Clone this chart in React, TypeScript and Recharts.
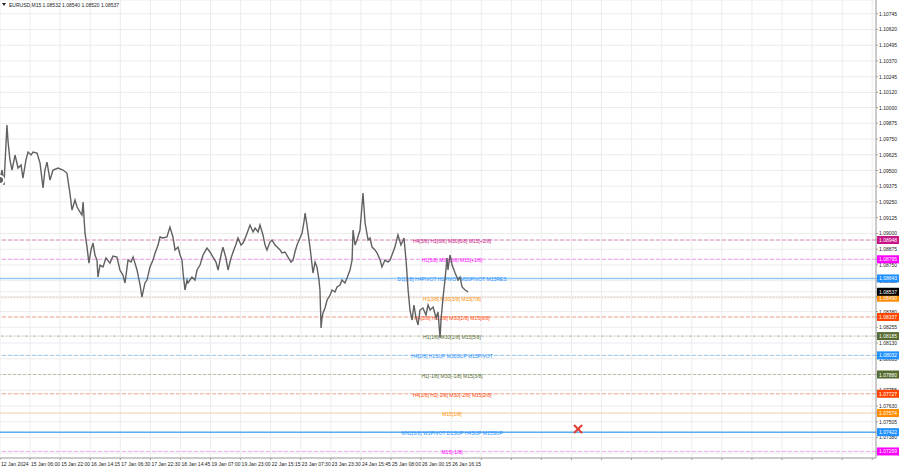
import React from 'react';
import {
  ComposedChart,
  Line,
  XAxis,
  YAxis,
  CartesianGrid,
  ReferenceLine,
  Scatter
} from 'recharts';

// hours since the first bar
const hours = [
  0, 1.1, 2.1, 3.7, 4.3, 5.3, 6.4, 8.0, 9.6, 11.2, 12.2, 13.8, 14.9, 16.5, 17.6, 19.7, 21.3, 22.9, 23.9, 25.0,
  26.6, 28.2, 30.9, 33.5, 35.6, 37.2, 38.3, 39.9, 41.0, 42.6, 43.6, 44.2, 45.2, 46.3, 47.3, 48.4, 49.5, 50.5, 51.6, 52.1,
  53.2, 54.8, 56.4, 58.5, 60.1, 62.2, 63.8, 65.4, 66.5, 68.1, 69.7, 70.8, 72.9, 74.5, 75.5, 77.1, 78.2, 79.8, 81.4, 82.5,
  84.1, 85.1, 86.7, 88.8, 90.4, 92.0, 93.1, 94.7, 95.8, 96.8, 97.4, 98.4, 99.5, 100.0, 102.1, 103.7, 104.8, 106.4, 108.0, 110.1,
  111.7, 113.3, 114.9, 116.0, 117.6, 118.6, 120.2, 121.3, 122.9, 124.0, 125.6, 126.6, 128.2, 129.3, 130.9, 133.0, 134.6, 135.7, 137.3, 138.3,
  139.9, 141.0, 142.0, 143.6, 144.7, 146.3, 147.4, 149.0, 150.0, 151.6, 153.2, 154.8, 155.9, 156.9, 158.0, 159.6, 160.7, 161.7, 162.3, 163.3,
  164.9, 166.5, 167.6, 168.6, 169.7, 170.2, 170.8, 171.3, 171.8, 172.9, 174.0, 175.6, 176.6, 178.2, 179.3, 180.9, 181.9, 183.5, 184.6, 186.2,
  187.3, 187.8, 188.9, 189.9, 191.5, 192.6, 193.1, 194.2, 195.8, 196.8, 197.9, 199.5, 200.6, 202.2, 203.2, 204.8, 206.4, 207.5, 209.1, 210.1,
  211.7, 213.3, 214.9, 216.0, 217.1, 218.1, 219.2, 220.2, 221.3, 222.4, 223.4, 225.0, 226.6, 227.7, 228.8, 230.4, 232.0, 233.0, 234.1, 234.6,
  235.7, 236.7, 237.8, 238.3, 239.4, 240.5, 242.1, 243.7, 244.7, 245.8, 247.4, 249.0
];

const prices = [
  1.09424, 1.09504, 1.09385, 1.09861, 1.09726, 1.09583, 1.09504, 1.09623, 1.09520, 1.09544, 1.09440, 1.09583, 1.09647, 1.09623, 1.09647, 1.09639, 1.09559, 1.09361, 1.09504, 1.09567,
  1.09424, 1.09504, 1.09520, 1.09504, 1.09480, 1.09321, 1.09186, 1.09266, 1.09210, 1.09170, 1.09147, 1.09250, 1.09004, 1.08892, 1.08765, 1.08869, 1.08924, 1.08829, 1.08789, 1.08654,
  1.08749, 1.08734, 1.08805, 1.08765, 1.08821, 1.08813, 1.08710, 1.08670, 1.08607, 1.08789, 1.08773, 1.08813, 1.08710, 1.08591, 1.08495, 1.08607, 1.08630, 1.08734, 1.08789, 1.08845,
  1.08908, 1.08972, 1.08964, 1.08972, 1.09051, 1.08972, 1.08869, 1.08892, 1.08829, 1.08789, 1.08686, 1.08551, 1.08630, 1.08607, 1.08654, 1.08630, 1.08710, 1.08749, 1.08829, 1.08884,
  1.08853, 1.08813, 1.08773, 1.08710, 1.08829, 1.08892, 1.08805, 1.08710, 1.08805, 1.08853, 1.08916, 1.08964, 1.08908, 1.08924, 1.08980, 1.09067, 1.09012, 1.09043, 1.09012, 1.09067,
  1.08988, 1.08908, 1.08869, 1.08932, 1.08948, 1.08908, 1.08892, 1.08869, 1.08845, 1.08853, 1.08813, 1.08773, 1.08789, 1.08853, 1.08908, 1.08964, 1.09004, 1.09091, 1.09162, 1.09067,
  1.08892, 1.08686, 1.08773, 1.08734, 1.08630, 1.08551, 1.08249, 1.08329, 1.08368, 1.08408, 1.08472, 1.08511, 1.08551, 1.08535, 1.08575, 1.08591, 1.08630, 1.08607, 1.08646, 1.08710,
  1.08789, 1.09027, 1.08908, 1.08948, 1.09027, 1.09226, 1.09321, 1.09083, 1.08948, 1.08964, 1.08892, 1.08869, 1.08845, 1.08789, 1.08734, 1.08789, 1.08773, 1.08789, 1.08853, 1.08892,
  1.08988, 1.08908, 1.08964, 1.08789, 1.08551, 1.08392, 1.08313, 1.08432, 1.08329, 1.08273, 1.08392, 1.08408, 1.08353, 1.08432, 1.08392, 1.08416, 1.08329, 1.08376, 1.08170, 1.08313,
  1.08495, 1.08630, 1.08805, 1.08710, 1.08829, 1.08749, 1.08686, 1.08630, 1.08654, 1.08575, 1.08551, 1.08537
];

const timeTicks = [
  0, 16, 32, 48, 64, 80, 96, 112, 128, 144, 160, 176, 192, 208, 224, 240,
  256, 272, 288, 304, 320, 336, 352, 368, 384, 400, 416, 432, 448, 464
];
const timeLabels = [
  '12 Jan 2024', '15 Jan 06:00', '15 Jan 22:00', '16 Jan 14:15', '17 Jan 06:30', '17 Jan 22:30',
  '18 Jan 14:45', '19 Jan 07:00', '19 Jan 23:00', '22 Jan 15:15', '23 Jan 07:30', '23 Jan 23:30',
  '24 Jan 15:45', '25 Jan 08:00', '26 Jan 00:15', '26 Jan 16:15'
];

const priceTicks = [
  1.10745, 1.10620, 1.10495, 1.10370, 1.10245, 1.10120, 1.10000, 1.09875, 1.09750, 1.09625,
  1.09500, 1.09375, 1.09250, 1.09125, 1.09000, 1.08875, 1.08750, 1.08625, 1.08500, 1.08380,
  1.08255, 1.08130, 1.08005, 1.07880, 1.07755, 1.07630, 1.07505, 1.07380, 1.07255
];

const levelPrices = [
  1.08948, 1.08795, 1.08643, 1.08490, 1.08337, 1.08185,
  1.08032, 1.07880, 1.07727, 1.07574, 1.07422, 1.07269
];
const levelNames = [
  'H4[5/8] H1[6/8] M30[6/8] M15[+2/8]',
  'H1[5/8] M30[5/8] M15[+1/8]',
  'D1[1/8] H4PIVOT H1PIVOT M30PIVOT M15RES',
  'H1[3/8] M30[3/8] M15[7/8]',
  'H4[3/8] H1[2/8] M30[2/8] M15[6/8]',
  'H1[1/8] M30[1/8] M15[5/8]',
  'H4[2/8] H1SUP M30SUP M15PIVOT',
  'H1[-1/8] M30[-1/8] M15[3/8]',
  'H4[1/8] H1[-2/8] M30[-2/8] M15[2/8]',
  'M15[1/8]',
  'MN1[6/8] W1PIVOT D1SUP H4SUP M15SUP',
  'M15[-1/8]'
];
const levelColors = [
  '#c71585', '#ff00ff', '#1e90ff', '#ff8c00', '#ff4500', '#556b2f',
  '#1e90ff', '#556b2f', '#ff4500', '#ff8c00', '#1e90ff', '#ff00ff'
];
const levelLineColors = [
  '#e28cc4', '#f59cf5', '#93c8f7', '#f8c890', '#f8a890', '#b4bc9c',
  '#9ccaf6', '#b8bea8', '#f8ac98', '#fbd6ad', '#5aacf7', '#f5a8f5'
];
const levelDashes = [
  '4 2', '4 2', undefined, '1 2', '4 2', '3 2 1 2',
  '4 2', '3 2', '4 2', undefined, undefined, '4 2'
];
const levelWidths = [1, 1, 1.5, 1, 1, 1, 1, 1, 1, 1, 1.5, 1];

const lastPrice = 1.08537;
const crossHours = [307.5];
const crossPrices = [1.07447];

// price tags on the right scale: levels plus the last price (drawn after the labels, so on top)
const tagPrices = [...levelPrices, lastPrice];
const tagColors = [...levelColors, '#000000'];
const scaleTicks = [...priceTicks, ...tagPrices];

const FONT = '"Liberation Sans", Arial, sans-serif';
const DOMAIN: [number, number] = [1.07217, 1.10854];

const series = hours.map((h, i) => ({ h, p: prices[i] }));
const crossData = crossHours.map((h, i) => ({ h, p: crossPrices[i] }));

function TimeTick(props: any) {
  const { x, y, index } = props;
  if (index >= timeLabels.length) return null;
  return (
    <text x={x + 1} y={y + 4} fontSize={5} fontFamily={FONT} fill="#222" textAnchor="start">
      {timeLabels[index]}
    </text>
  );
}

function PriceTick(props: any) {
  const { x, y, payload, index } = props;
  const label = Number(payload.value).toFixed(5);
  if (index >= priceTicks.length) {
    const color = tagColors[index - priceTicks.length] ?? '#000';
    return (
      <g>
        <rect x={x - 2} y={y - 4} width={22} height={8} fill={color} />
        <text x={x} y={y + 2} fontSize={5} fontFamily={FONT} fill="#fff" textAnchor="start">
          {label}
        </text>
      </g>
    );
  }
  return (
    <text x={x} y={y + 2} fontSize={5} fontFamily={FONT} fill="#222" textAnchor="start">
      {label}
    </text>
  );
}

function LevelName(props: any) {
  const { viewBox, name, color } = props;
  if (!viewBox) return null;
  const { x, y, width } = viewBox;
  return (
    <text x={x + width * 0.516} y={y + 3} fontSize={5} fontFamily={FONT} fill={color} textAnchor="middle">
      {name}
    </text>
  );
}

function Cross(props: any) {
  const { cx, cy } = props;
  return (
    <g stroke="#e0403a" strokeWidth={2} strokeLinecap="round">
      <line x1={cx - 3.5} y1={cy - 3.5} x2={cx + 3.5} y2={cy + 3.5} />
      <line x1={cx - 3.5} y1={cy + 3.5} x2={cx + 3.5} y2={cy - 3.5} />
    </g>
  );
}

export default function App() {
  return (
    <div style={{ position: 'relative', width: 900, height: 468, background: '#fff' }}>
      <style>{`body{margin:0;background:#fff}`}</style>
      <ComposedChart
        width={900}
        height={468}
        data={series}
        margin={{ top: 0, right: 0, left: 0, bottom: 0 }}
      >
        <CartesianGrid stroke="#ececec" />
        <XAxis
          dataKey="h"
          type="number"
          domain={[0, 466]}
          ticks={timeTicks}
          interval={0}
          height={10}
          tickSize={2}
          stroke="#a0a0a0"
          tick={<TimeTick />}
          allowDataOverflow
        />
        <YAxis
          type="number"
          orientation="right"
          domain={DOMAIN}
          ticks={scaleTicks}
          interval={0}
          width={24}
          tickSize={2}
          tickMargin={1}
          stroke="#a0a0a0"
          tick={<PriceTick />}
          allowDataOverflow
        />
        {levelPrices.map((v, i) => (
          <ReferenceLine
            key={`lvl-${i}`}
            y={v}
            stroke={levelLineColors[i]}
            strokeWidth={levelWidths[i]}
            strokeDasharray={levelDashes[i]}
            label={(p: any) => <LevelName viewBox={p.viewBox} name={levelNames[i]} color={levelColors[i]} />}
          />
        ))}
        <Line
          type="linear"
          dataKey="p"
          stroke="#616161"
          strokeWidth={1.4}
          dot={false}
          isAnimationActive={false}
        />
        <Scatter data={crossData} dataKey="p" shape={<Cross />} isAnimationActive={false} />
      </ComposedChart>
      <svg
        width={200}
        height={10}
        style={{ position: 'absolute', left: 0, top: 0, pointerEvents: 'none' }}
      >
        <polygon points="2,3 6,3 4,6" fill="#222" />
        <text x={9} y={6.5} fontSize={5} fontFamily={FONT} fill="#222">
          EURUSD,M15  1.08532 1.08540 1.08520 1.08537
        </text>
      </svg>
    </div>
  );
}
